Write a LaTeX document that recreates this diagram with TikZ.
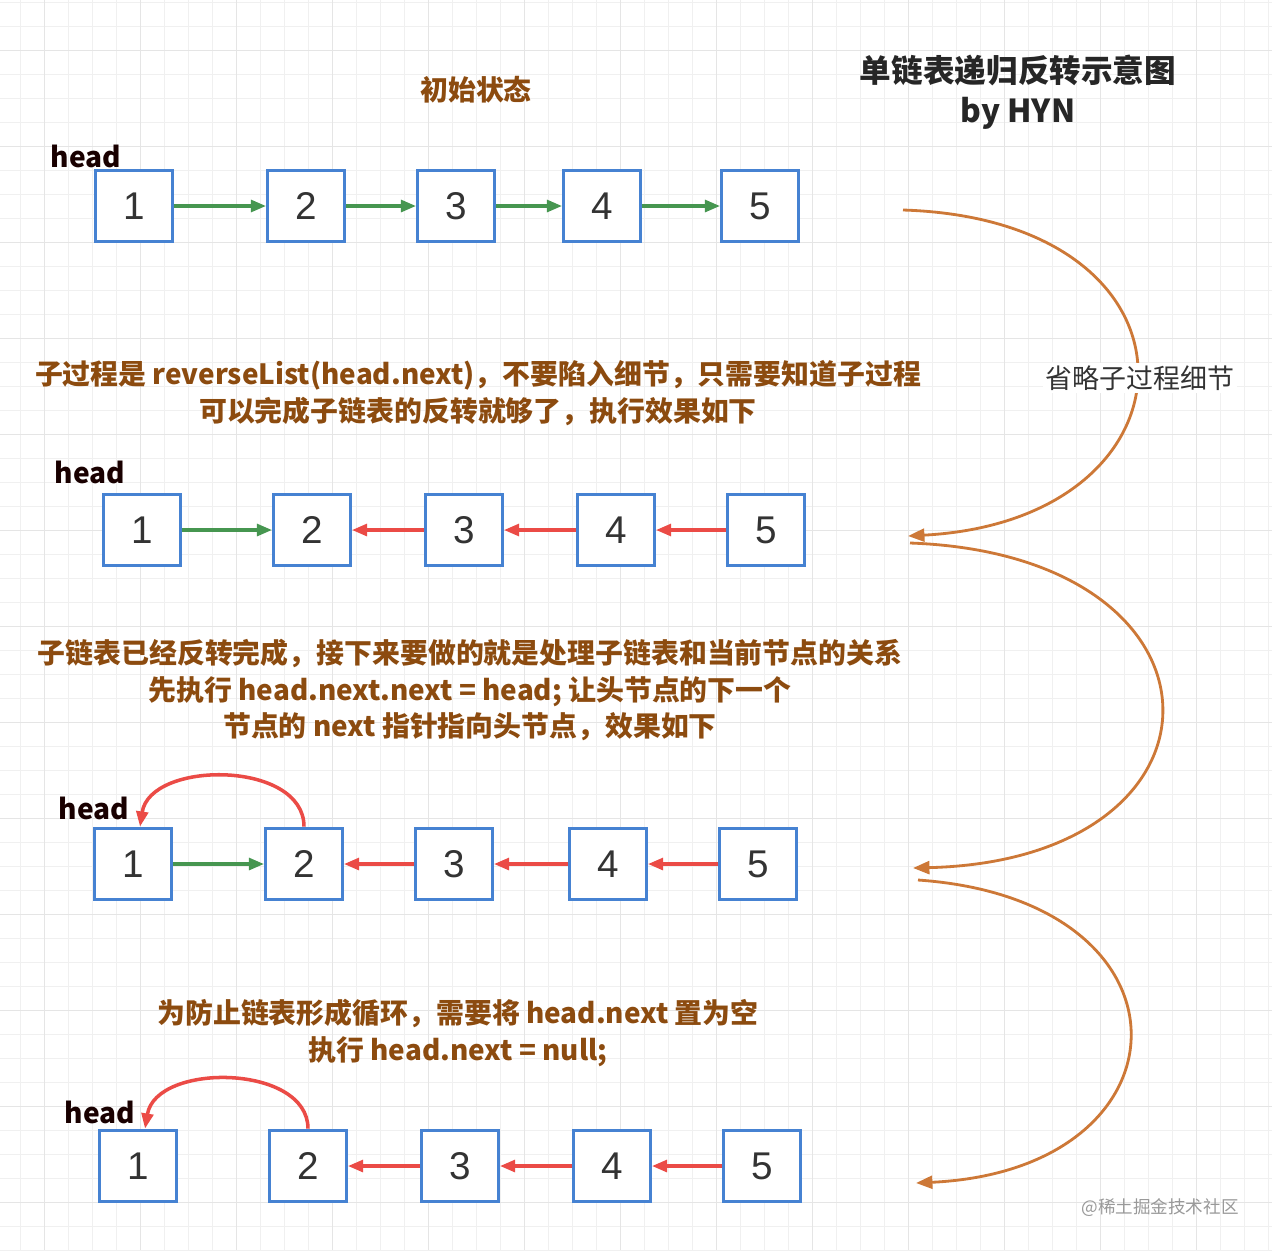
\documentclass[tikz,border=0pt]{standalone}
\usepackage{fontspec}
\setmainfont{Noto Sans CJK SC}
\newfontfamily\numf{Liberation Sans}
\usetikzlibrary{arrows.meta}
\definecolor{bx}{RGB}{70,130,210}
\definecolor{gr}{RGB}{70,150,80}
\definecolor{rd}{RGB}{235,75,70}
\definecolor{og}{RGB}{205,120,55}
\definecolor{tx}{RGB}{140,75,15}
\begin{document}
\begin{tikzpicture}[x=0.03cm,y=-0.03cm,
 box/.style={draw=bx,line width=2.6pt,fill=white,minimum width=2.3cm,minimum height=2.15cm,font=\numf\fontsize{33}{33}\selectfont,text=black!80},
 ga/.style={draw=gr,line width=3pt,-{Triangle[length=13pt,width=10pt]}},
 ra/.style={draw=rd,line width=3pt,-{Triangle[length=13pt,width=10pt]}},
 oa/.style={draw=og,line width=2.4pt,-{Triangle[length=14pt,width=11pt]}},
 lbl/.style={text=tx,font=\bfseries\fontsize{23.8}{31}\selectfont,align=center},
 hd/.style={font=\bfseries\fontsize{24}{26}\selectfont,text=black!90!red}]
\useasboundingbox (0,0) rectangle (1272,1250);
\fill[white] (0,0) rectangle (1272,1250);
\foreach \i in {0,...,53} {\draw[black!6,line width=0.5pt] (20+24*\i,0) -- (20+24*\i,1250); \draw[black!6,line width=0.5pt] (0,2+24*\i) -- (1272,2+24*\i);}
\foreach \i in {0,...,13} {\draw[black!10,line width=0.8pt] (44+96*\i,0) -- (44+96*\i,1250); \draw[black!10,line width=0.8pt] (0,50+96*\i) -- (1272,50+96*\i);}
% titles
\node[font=\bfseries\fontsize{27}{34}\selectfont,align=center,text=black!85] (t) at (1018,92) {单链表递归反转示意图\\by HYN};
\node[lbl] (l0) at (476,90) {初始状态};
\node[lbl] (l1) at (478,393) {子过程是 reverseList(head.next)，不要陷入细节，只需要知道子过程\\可以完成子链表的反转就够了，执行效果如下};
\node[lbl] (l2) at (470,690) {子链表已经反转完成，接下来要做的就是处理子链表和当前节点的关系\\先执行 head.next.next = head; 让头节点的下一个\\节点的 next 指针指向头节点，效果如下};
\node[lbl] (l3) at (458,1033) {为防止链表形成循环，需要将 head.next 置为空\\执行 head.next = null;};
% row1
\foreach \n/\x in {1/134,2/306,3/456,4/602,5/760} \node[box] (a\n) at (\x,206) {\n};
\node[hd] (h1) at (86,156) {head};
\foreach \p/\q in {1/2,2/3,3/4,4/5} \draw[ga] (a\p) -- (a\q);
% row2
\foreach \n/\x in {1/142,2/312,3/464,4/616,5/766} \node[box] (b\n) at (\x,530) {\n};
\node[hd] (h2) at (90,472) {head};
\draw[ga] (b1) -- (b2);
\foreach \p/\q in {3/2,4/3,5/4} \draw[ra] (b\p) -- (b\q);
% row3
\foreach \n/\x in {1/133,2/304,3/454,4/608,5/758} \node[box] (c\n) at (\x,864) {\n};
\node[hd] (h3) at (94,808) {head};
\draw[ga] (c1) -- (c2);
\foreach \p/\q in {3/2,4/3,5/4} \draw[ra] (c\p) -- (c\q);
\draw[ra] (c2.north) .. controls (304,760) and (150,760) .. ([xshift=6pt]c1.north);
% row4
\foreach \n/\x in {1/138,2/308,3/460,4/612,5/762} \node[box] (d\n) at (\x,1166) {\n};
\node[hd] (h4) at (100,1112) {head};
\foreach \p/\q in {3/2,4/3,5/4} \draw[ra] (d\p) -- (d\q);
\draw[ra] (d2.north) .. controls (308,1064) and (156,1062) .. ([xshift=6pt]d1.north);
% orange curves
\coordinate (o1) at (903,210); \coordinate (o2) at (908,536);
\coordinate (o3) at (910,543); \coordinate (o4) at (913,868);
\coordinate (o5) at (918,880); \coordinate (o6) at (916,1183);
\draw[oa] (o1) .. controls (1218,220) and (1208,520) .. (o2);
\draw[oa] (o3) .. controls (1244,555) and (1244,860) .. (o4);
\draw[oa] (o5) .. controls (1205,900) and (1195,1170) .. (o6);
\node[fill=white,inner sep=2pt,font=\fontsize{23}{25}\selectfont,text=black!80] (s) at (1140,378) {省略子过程细节};
\node[font=\fontsize{15}{17}\selectfont,text=black!40] (w) at (1160,1208) {@稀土掘金技术社区};
\end{tikzpicture}
\end{document}
